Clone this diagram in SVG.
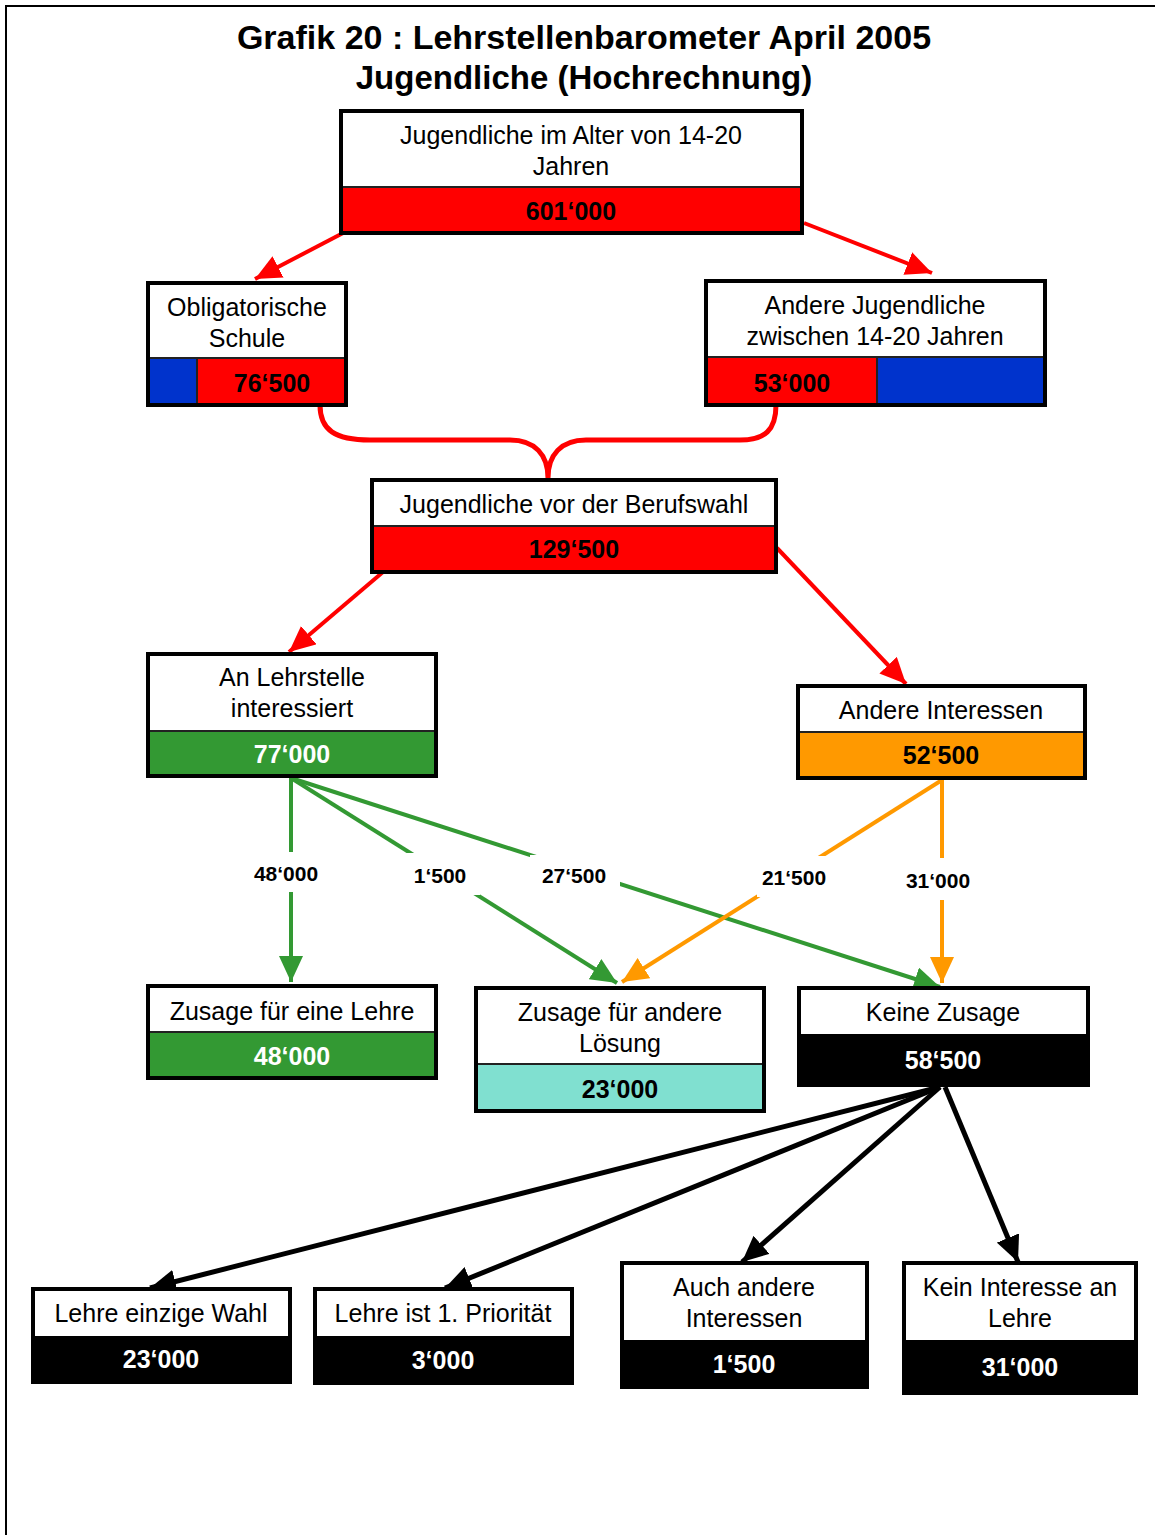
<svg xmlns="http://www.w3.org/2000/svg" width="1155" height="1535" viewBox="0 0 1155 1535">
<style>
.t{font-family:"Liberation Sans",Arial,sans-serif;font-size:25px;text-anchor:middle;fill:#000}
.v{font-weight:bold}
.w{fill:#fff}
.lbl{font-family:"Liberation Sans",Arial,sans-serif;font-size:21px;font-weight:bold;text-anchor:middle;fill:#000}
.ttl{font-family:"Liberation Sans",Arial,sans-serif;font-weight:bold;text-anchor:middle;fill:#000}
.bg{fill:#fff}
.bd{fill:none;stroke:#000;stroke-width:4}
.dv{stroke:#222;stroke-width:2}
.red{fill:#ff0000}.blue{fill:#0033cc}.green{fill:#339933}.orange{fill:#ff9900}.teal{fill:#80e0d0}.black{fill:#000}
.cr{stroke:#ff0000;stroke-width:4;fill:none}
.cg{stroke:#339933;stroke-width:4;fill:none}
.co{stroke:#ff9900;stroke-width:4;fill:none}
.ck{stroke:#000;stroke-width:5;fill:none}
</style>
<defs>
<marker id="ar" markerUnits="userSpaceOnUse" markerWidth="26" markerHeight="24" refX="26" refY="12" orient="auto"><path d="M0,0 L26,12 L0,24 z" fill="#ff0000"/></marker>
<marker id="ag" markerUnits="userSpaceOnUse" markerWidth="26" markerHeight="24" refX="26" refY="12" orient="auto"><path d="M0,0 L26,12 L0,24 z" fill="#339933"/></marker>
<marker id="ao" markerUnits="userSpaceOnUse" markerWidth="26" markerHeight="24" refX="26" refY="12" orient="auto"><path d="M0,0 L26,12 L0,24 z" fill="#ff9900"/></marker>
<marker id="ak" markerUnits="userSpaceOnUse" markerWidth="26" markerHeight="24" refX="26" refY="12" orient="auto"><path d="M0,0 L26,12 L0,24 z" fill="#000"/></marker>
</defs>
<rect x="0" y="0" width="1155" height="1535" fill="#fff"/>
<g id="frame"><line x1="5" y1="6" x2="1155" y2="6" stroke="#000" stroke-width="2"/><line x1="6" y1="5" x2="6" y2="1535" stroke="#000" stroke-width="2"/></g>
<g id="title">
<text class="ttl" x="584" y="49" font-size="34">Grafik 20 : Lehrstellenbarometer April 2005</text>
<text class="ttl" x="584" y="89" font-size="33">Jugendliche (Hochrechnung)</text>
</g>
<g id="connectors">
<line class="cr" x1="345" y1="232" x2="255" y2="279" marker-end="url(#ar)"/>
<line class="cr" x1="804" y1="223" x2="932" y2="273" marker-end="url(#ar)"/>
<path d="M320,405 C320,430 335,440 370,440 L510,440 C535,440 548,455 548,478 C548,455 561,440 586,440 L740,440 C765,440 776,430 776,405" stroke="#ff0000" stroke-width="5" fill="none"/>
<line class="cr" x1="383" y1="572" x2="289" y2="652" marker-end="url(#ar)"/>
<line class="cr" x1="777" y1="548" x2="906" y2="684" marker-end="url(#ar)"/>
<line class="cg" x1="291" y1="778" x2="291" y2="982" marker-end="url(#ag)"/>
<line class="cg" x1="291" y1="778" x2="617" y2="983" marker-end="url(#ag)"/>
<line class="cg" x1="291" y1="778" x2="940" y2="987" marker-end="url(#ag)"/>
<line class="co" x1="942" y1="780" x2="622" y2="982" marker-end="url(#ao)"/>
<line class="co" x1="942" y1="780" x2="942" y2="983" marker-end="url(#ao)"/>
<rect class="bg" x="250" y="852" width="72" height="40"/>
<rect class="bg" x="405" y="853" width="75" height="42"/>
<rect class="bg" x="530" y="855" width="90" height="40"/>
<rect class="bg" x="757" y="856" width="73" height="41"/>
<rect class="bg" x="905" y="858" width="67" height="42"/>
<text class="lbl" x="286" y="881">48‘000</text>
<text class="lbl" x="440" y="883">1‘500</text>
<text class="lbl" x="574" y="883">27‘500</text>
<text class="lbl" x="794" y="885">21‘500</text>
<text class="lbl" x="938" y="888">31‘000</text>
<line class="ck" x1="940" y1="1087" x2="150" y2="1288" marker-end="url(#ak)"/>
<line class="ck" x1="940" y1="1087" x2="445" y2="1288" marker-end="url(#ak)"/>
<line class="ck" x1="940" y1="1087" x2="742" y2="1262" marker-end="url(#ak)"/>
<line class="ck" x1="945" y1="1087" x2="1018" y2="1262" marker-end="url(#ak)"/>
</g>
<g id="n-total">
<rect class="bg" x="341" y="111" width="461" height="122"/>
<rect class="red" x="341" y="187" width="461" height="46"/>
<line class="dv" x1="341" y1="187" x2="802" y2="187"/>
<rect class="bd" x="341" y="111" width="461" height="122"/>
<text class="t" x="571" y="144">Jugendliche im Alter von 14-20</text>
<text class="t" x="571" y="175">Jahren</text>
<text class="t v" x="571" y="220">601‘000</text>
</g>
<g id="n-schule">
<rect class="bg" x="148" y="283" width="198" height="122"/>
<rect class="blue" x="148" y="358" width="49" height="47"/>
<rect class="red" x="197" y="358" width="149" height="47"/>
<line class="dv" x1="148" y1="358" x2="346" y2="358"/>
<line class="dv" x1="197" y1="358" x2="197" y2="405"/>
<rect class="bd" x="148" y="283" width="198" height="122"/>
<text class="t" x="247" y="316">Obligatorische</text>
<text class="t" x="247" y="347">Schule</text>
<text class="t v" x="272" y="392">76‘500</text>
</g>
<g id="n-andere">
<rect class="bg" x="706" y="281" width="339" height="124"/>
<rect class="red" x="706" y="357" width="171" height="48"/>
<rect class="blue" x="877" y="357" width="168" height="48"/>
<line class="dv" x1="706" y1="357" x2="1045" y2="357"/>
<line class="dv" x1="877" y1="357" x2="877" y2="405"/>
<rect class="bd" x="706" y="281" width="339" height="124"/>
<text class="t" x="875" y="314">Andere Jugendliche</text>
<text class="t" x="875" y="345">zwischen 14-20 Jahren</text>
<text class="t v" x="792" y="392">53‘000</text>
</g>
<g id="n-berufswahl">
<rect class="bg" x="372" y="480" width="404" height="92"/>
<rect class="red" x="372" y="526" width="404" height="46"/>
<line class="dv" x1="372" y1="526" x2="776" y2="526"/>
<rect class="bd" x="372" y="480" width="404" height="92"/>
<text class="t" x="574" y="513">Jugendliche vor der Berufswahl</text>
<text class="t v" x="574" y="558">129‘500</text>
</g>
<g id="n-lehrstelle">
<rect class="bg" x="148" y="654" width="288" height="122"/>
<rect class="green" x="148" y="731" width="288" height="45"/>
<line class="dv" x1="148" y1="731" x2="436" y2="731"/>
<rect class="bd" x="148" y="654" width="288" height="122"/>
<text class="t" x="292" y="686">An Lehrstelle</text>
<text class="t" x="292" y="717">interessiert</text>
<text class="t v w" x="292" y="763">77‘000</text>
</g>
<g id="n-interessen">
<rect class="bg" x="798" y="686" width="287" height="92"/>
<rect class="orange" x="798" y="732" width="287" height="46"/>
<line class="dv" x1="798" y1="732" x2="1085" y2="732"/>
<rect class="bd" x="798" y="686" width="287" height="92"/>
<text class="t" x="941" y="719">Andere Interessen</text>
<text class="t v" x="941" y="764">52‘500</text>
</g>
<g id="n-zusage-lehre">
<rect class="bg" x="148" y="986" width="288" height="92"/>
<rect class="green" x="148" y="1032" width="288" height="46"/>
<line class="dv" x1="148" y1="1032" x2="436" y2="1032"/>
<rect class="bd" x="148" y="986" width="288" height="92"/>
<text class="t" x="292" y="1020">Zusage für eine Lehre</text>
<text class="t v w" x="292" y="1065">48‘000</text>
</g>
<g id="n-zusage-andere">
<rect class="bg" x="476" y="988" width="288" height="123"/>
<rect class="teal" x="476" y="1064" width="288" height="47"/>
<line class="dv" x1="476" y1="1064" x2="764" y2="1064"/>
<rect class="bd" x="476" y="988" width="288" height="123"/>
<text class="t" x="620" y="1021">Zusage für andere</text>
<text class="t" x="620" y="1052">Lösung</text>
<text class="t v" x="620" y="1098">23‘000</text>
</g>
<g id="n-keine">
<rect class="bg" x="799" y="988" width="289" height="97"/>
<rect class="black" x="799" y="1034" width="289" height="51"/>
<rect class="bd" x="799" y="988" width="289" height="97"/>
<text class="t" x="943" y="1021">Keine Zusage</text>
<text class="t v w" x="943" y="1069">58‘500</text>
</g>
<g id="n-einzige">
<rect class="bg" x="33" y="1289" width="257" height="93"/>
<rect class="black" x="33" y="1336" width="257" height="46"/>
<rect class="bd" x="33" y="1289" width="257" height="93"/>
<text class="t" x="161" y="1322">Lehre einzige Wahl</text>
<text class="t v w" x="161" y="1368">23‘000</text>
</g>
<g id="n-prioritaet">
<rect class="bg" x="315" y="1289" width="257" height="94"/>
<rect class="black" x="315" y="1336" width="257" height="47"/>
<rect class="bd" x="315" y="1289" width="257" height="94"/>
<text class="t" x="443" y="1322">Lehre ist 1. Priorität</text>
<text class="t v w" x="443" y="1369">3‘000</text>
</g>
<g id="n-auch">
<rect class="bg" x="622" y="1263" width="245" height="124"/>
<rect class="black" x="622" y="1340" width="245" height="47"/>
<rect class="bd" x="622" y="1263" width="245" height="124"/>
<text class="t" x="744" y="1296">Auch andere</text>
<text class="t" x="744" y="1327">Interessen</text>
<text class="t v w" x="744" y="1373">1‘500</text>
</g>
<g id="n-kein">
<rect class="bg" x="904" y="1263" width="232" height="130"/>
<rect class="black" x="904" y="1340" width="232" height="53"/>
<rect class="bd" x="904" y="1263" width="232" height="130"/>
<text class="t" x="1020" y="1296">Kein Interesse an</text>
<text class="t" x="1020" y="1327">Lehre</text>
<text class="t v w" x="1020" y="1376">31‘000</text>
</g>
</svg>
